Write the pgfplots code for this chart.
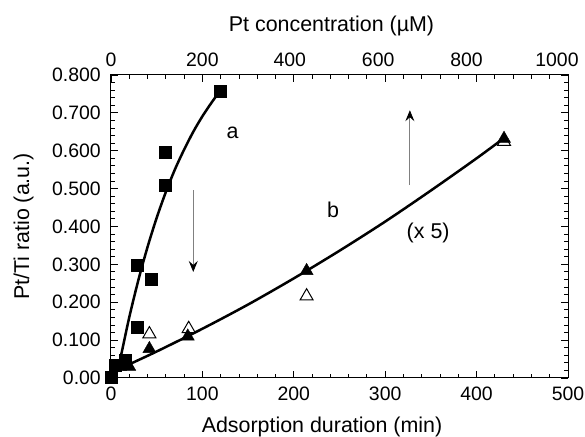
\documentclass[border=0pt]{standalone}
\usepackage{fontspec}
\setmainfont{Liberation Sans}
\usepackage{pgfplots}
\pgfplotsset{compat=1.18}
\usetikzlibrary{arrows.meta}
\begin{document}
\begin{tikzpicture}
\pgfplotsset{
  every axis/.append style={
    width=457bp, height=303bp, scale only axis,
    at={(0,0)}, anchor=south west,
    tick align=inside,
    major tick length=7bp, minor tick length=4bp,
    axis line style={line width=1bp},
    every tick/.style={line width=0.9bp, black},
    tick label style={font=\fontsize{19.5}{21}\selectfont},
    /pgf/number format/assume math mode=true,
    /pgf/number format/1000 sep={},
  }
}
\begin{axis}[
  xmin=0, xmax=500, ymin=0, ymax=0.8,
  clip=false,
  xtick={0,100,200,300,400,500},
  minor x tick num=4,
  xtick pos=lower,
  ytick={0,0.1,0.2,0.3,0.4,0.5,0.6,0.7,0.8},
  yticklabels={\textrm{0.00},\textrm{0.100},\textrm{0.200},\textrm{0.300},\textrm{0.400},\textrm{0.500},\textrm{0.600},\textrm{0.700},\textrm{0.800}},
  minor y tick num=4,
  ytick pos=both,
  yticklabel pos=left,
  xticklabel style={anchor=north, inner sep=0pt, yshift=-9bp},
  yticklabel style={anchor=east, inner sep=0pt, xshift=-10bp},
  xlabel={Adsorption duration (min)},
  ylabel={Pt/Ti ratio (a.u.)},
  every axis x label/.style={at={(axis description cs:0.4617,-0.1815)}, anchor=base, inner sep=0pt, font=\fontsize{21.5}{24}\selectfont},
  every axis y label/.style={at={(axis description cs:-0.1794,0.5)}, anchor=base, rotate=90, inner sep=0pt, font=\fontsize{21.5}{24}\selectfont},
]
% curve a
\addplot[black, line width=2.5bp, no marks, smooth] coordinates {
 (5,0.005) (10,0.049) (20,0.1605) (30,0.259) (40,0.346) (50,0.423) (60,0.491)
 (70,0.551) (80,0.603) (90,0.650) (100,0.691) (110,0.727) (119,0.757)};
% curve b
\addplot[black, line width=2.5bp, no marks, smooth] coordinates {
 (10,0.025) (50,0.070) (100,0.130) (150,0.194) (200,0.263) (250,0.336)
 (300,0.413) (350,0.495) (400,0.580) (428,0.630)};
% squares
\addplot[only marks, mark=square*, mark size=6bp, black] coordinates {
 (0,0.003) (4.5,0.034) (15,0.047) (29,0.135) (29,0.297) (44,0.261)
 (59,0.509) (59,0.597) (119,0.757)};
% open triangles
\addplot[only marks, mark=triangle, mark size=7.5bp, black, mark options={line width=1bp, fill=white}] coordinates {
 (42,0.116) (85,0.13) (214,0.216) (430,0.624)};
% filled triangles
\addplot[only marks, mark=triangle*, mark size=7.5bp, black] coordinates {
 (10,0.03) (20,0.03) (42,0.077) (84,0.11) (214,0.283) (430,0.632)};
% arrows
\draw[gray, line width=0.8bp, -{Stealth[black, length=11bp, width=9bp, inset=4bp]}] (axis cs:90,0.496) -- (axis cs:90,0.28);
\draw[gray, line width=0.8bp, -{Stealth[black, length=11bp, width=9bp, inset=4bp]}] (axis cs:327,0.509) -- (axis cs:327,0.707);
% labels
\node[font=\fontsize{21.5}{24}\selectfont, inner sep=0pt] at (axis cs:133,0.646) {a};
\node[font=\fontsize{21.5}{24}\selectfont, inner sep=0pt] at (axis cs:243,0.443) {b};
\node[font=\fontsize{21.5}{24}\selectfont, inner sep=0pt] at (axis cs:347,0.382) {(x 5)};
\coordinate (ll) at (rel axis cs:0,0);
\coordinate (ur) at (rel axis cs:1,1);
\end{axis}
\begin{axis}[
  xmin=0, xmax=1000, ymin=0, ymax=0.8,
  axis x line*=top,
  axis y line=none,
  xtick={0,200,400,600,800,1000},
  xticklabels={\textrm{0},\textrm{200},\textrm{\hspace*{-8bp}400},\textrm{\hspace*{-14bp}600},\textrm{\hspace*{-20bp}800},\textrm{\hspace*{-22bp}1000}},
  minor x tick num=4,
  xticklabel style={anchor=south, inner sep=0pt, yshift=8bp},
  xlabel={Pt concentration (\textmu M)},
  every axis x label/.style={at={(axis description cs:0.4825,1.1419)}, anchor=base, inner sep=0pt, font=\fontsize{21.5}{24}\selectfont},
]
\end{axis}
\pgfresetboundingbox
\useasboundingbox ([shift={(-111bp,-59bp)}]ll) rectangle ([shift={(17bp,75bp)}]ur);
\end{tikzpicture}
\end{document}
